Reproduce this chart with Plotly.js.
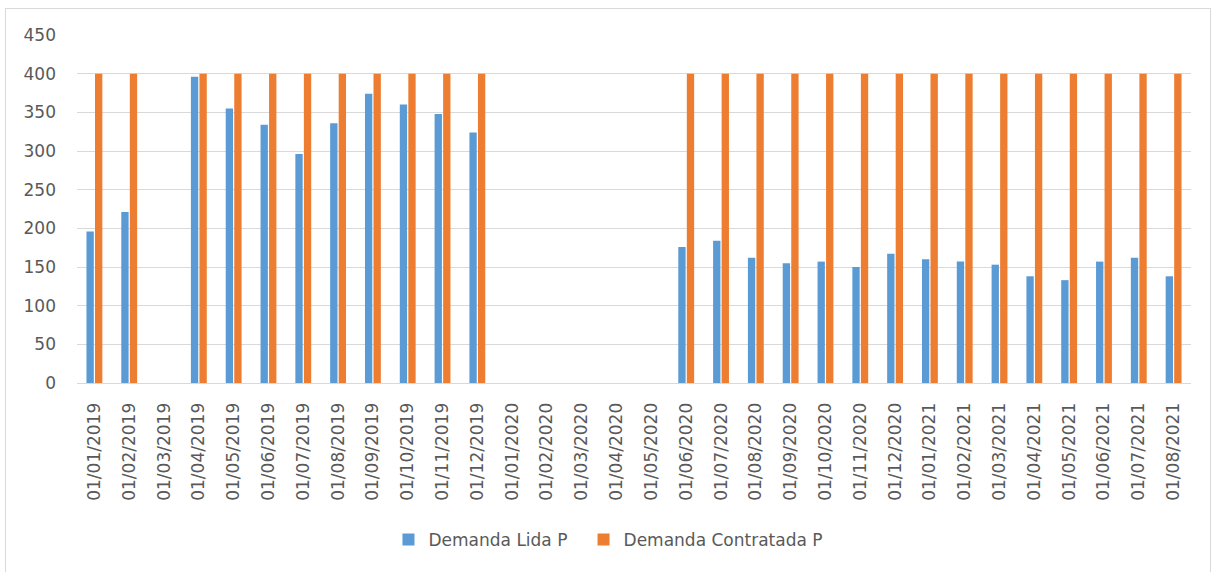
<!DOCTYPE html>
<html>
<head>
<meta charset="utf-8">
<script src="https://cdn.plot.ly/plotly-3.0.1.min.js"></script>
<style>
  html, body { margin: 0; padding: 0; background: #ffffff; }
  #chart { position: absolute; left: 0; top: 0; width: 1215px; height: 572px; }
  #frame { position: absolute; left: 5px; top: 8px; width: 1206px; height: 600px;
           border: 1px solid #d9d9d9; pointer-events: none; box-sizing: border-box; }
</style>
</head>
<body>
<div id="chart"></div>
<div id="frame"></div>
<script>
const categories = [
  "01/01/2019","01/02/2019","01/03/2019","01/04/2019","01/05/2019","01/06/2019",
  "01/07/2019","01/08/2019","01/09/2019","01/10/2019","01/11/2019","01/12/2019",
  "01/01/2020","01/02/2020","01/03/2020","01/04/2020","01/05/2020","01/06/2020",
  "01/07/2020","01/08/2020","01/09/2020","01/10/2020","01/11/2020","01/12/2020",
  "01/01/2021","01/02/2021","01/03/2021","01/04/2021","01/05/2021","01/06/2021",
  "01/07/2021","01/08/2021"
];
const demandaLida = [
  196, 221, null, 396, 355, 334, 296, 336, 374, 360, 348, 324,
  null, null, null, null, null, 176, 184, 162, 155, 157, 150, 167,
  160, 157, 153, 138, 133, 157, 162, 138
];
const demandaContratada = [
  400, 400, null, 400, 400, 400, 400, 400, 400, 400, 400, 400,
  null, null, null, null, null, 400, 400, 400, 400, 400, 400, 400,
  400, 400, 400, 400, 400, 400, 400, 400
];
const yTicks = [0, 50, 100, 150, 200, 250, 300, 350, 400, 450];

const textColor = "#595959";
const fontFamily = "DejaVu Sans, Verdana, sans-serif";

const data = [
  { type: "bar", name: "Demanda Lida P", x: categories, y: demandaLida,
    marker: { color: "#5B9BD5" }, hoverinfo: "x+y", legend: "legend" },
  { type: "bar", name: "Demanda Contratada P", x: categories, y: demandaContratada,
    marker: { color: "#ED7D31" }, hoverinfo: "x+y", legend: "legend2" }
];

const legendBase = {
  orientation: "h", xanchor: "left", y: -0.451, yanchor: "middle",
  font: { family: fontFamily, size: 17, color: textColor },
  itemwidth: 30, bgcolor: "rgba(0,0,0,0)"
};

const layout = {
  width: 1215, height: 572,
  margin: { l: 77, r: 24, t: 35, b: 189, pad: 0 },
  paper_bgcolor: "#ffffff", plot_bgcolor: "#ffffff",
  font: { family: fontFamily, size: 17, color: textColor },
  barmode: "group",
  bargap: 0.51,
  bargroupgap: 0.14,
  showlegend: true,
  legend: Object.assign({}, legendBase, { x: 0.2796 }),
  legend2: Object.assign({}, legendBase, { x: 0.4547 }),
  xaxis: {
    type: "category", tickmode: "linear", dtick: 1, tick0: 0,
    tickangle: -90, showgrid: false, zeroline: false,
    showline: true, linecolor: "#d9d9d9", linewidth: 1,
    ticks: "", ticklabelstandoff: 12,
    tickfont: { family: fontFamily, size: 17, color: textColor },
    automargin: false
  },
  yaxis: {
    range: [0, 450], tickmode: "array", tickvals: yTicks,
    ticktext: yTicks.map(String),
    showgrid: true, gridcolor: "#d9d9d9", gridwidth: 1,
    zeroline: false, showline: false, ticks: "",
    ticklabelstandoff: 20,
    tickfont: { family: fontFamily, size: 17, color: textColor },
    automargin: false
  }
};

Plotly.newPlot("chart", data, layout, { displayModeBar: false, responsive: false });
</script>
</body>
</html>
